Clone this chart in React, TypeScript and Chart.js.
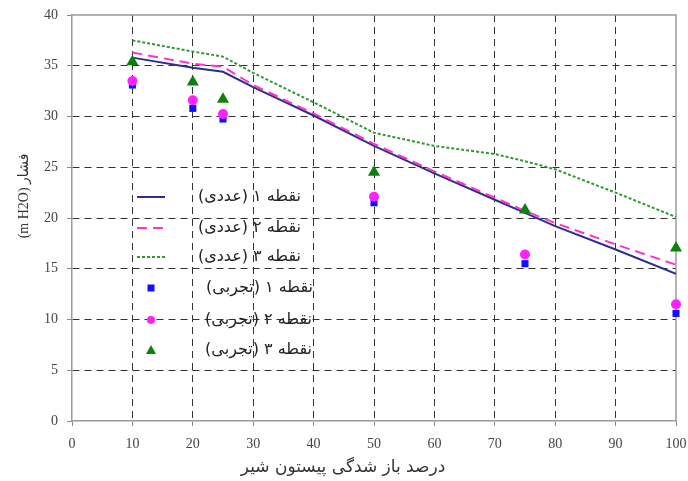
import React, { useEffect, useRef } from "react";
import { Chart, registerables } from "chart.js";

Chart.register(...registerables);

// ---- data ----
const xNumeric = [10, 20, 25, 30, 40, 50, 60, 70, 75, 80, 90, 100];
const numeric1 = [35.8, 34.8, 34.4, 32.9, 30.1, 27.1, 24.4, 21.8, 20.5, 19.2, 16.9, 14.5];
const numeric2 = [36.3, 35.2, 34.9, 33.1, 30.3, 27.3, 24.6, 22.0, 20.7, 19.5, 17.4, 15.4];
const numeric3 = [37.5, 36.4, 35.9, 34.3, 31.4, 28.4, 27.1, 26.3, 25.6, 24.8, 22.5, 20.1];

const xExperimental = [10, 20, 25, 50, 75, 100];
const experimental1 = [33.1, 30.8, 29.75, 21.5, 15.5, 10.6];
const experimental2 = [33.5, 31.6, 30.25, 22.1, 16.4, 11.5];
const experimental3 = [35.4, 33.4, 31.7, 24.5, 20.8, 17.05];

const seriesLabels = [
  "نقطه ۱ (عددی)",
  "نقطه ۲ (عددی)",
  "نقطه ۳ (عددی)",
  "نقطه ۱ (تجربی)",
  "نقطه ۲ (تجربی)",
  "نقطه ۳ (تجربی)",
];

const xAxisTitle = "درصد باز شدگی پیستون شیر";
const yAxisTitle = "(m H2O) فشار";

const xMin = 0, xMax = 100, xStep = 10;
const yMin = 0, yMax = 40, yStep = 5;

const toPoints = (xs: number[], ys: number[]) => xs.map((x, i) => ({ x, y: ys[i] }));

const SERIF = '"Liberation Serif", "DejaVu Sans", serif';
const ARABIC = '"DejaVu Sans", "Liberation Serif", sans-serif';

const decorPlugin = {
  id: "decor",
  beforeDatasetsDraw(chart: any) {
    const { ctx, chartArea: a } = chart;
    ctx.save();
    ctx.strokeStyle = "#9a9a9a";
    ctx.lineWidth = 1.5;
    ctx.setLineDash([]);
    ctx.beginPath();
    ctx.moveTo(a.left, a.top);
    ctx.lineTo(a.right, a.top);
    ctx.lineTo(a.right, a.bottom);
    ctx.stroke();
    ctx.restore();
  },
  afterDraw(chart: any) {
    const { ctx } = chart;
    ctx.save();
    // axis titles
    ctx.fillStyle = "#333";
    ctx.textBaseline = "middle";
    ctx.textAlign = "center";
    ctx.font = "17px " + ARABIC;
    ctx.direction = "rtl";
    ctx.fillText(xAxisTitle, 343, 468);
    ctx.save();
    ctx.translate(24, 196);
    ctx.rotate(-Math.PI / 2);
    ctx.direction = "ltr";
    ctx.font = "14px " + SERIF;
    ctx.fillText(yAxisTitle, 0, 0);
    ctx.restore();

    // legend inside the plot
    const rows = [197, 228, 257, 288, 320, 350];
    const rightEdges = [301, 301, 301, 313, 312, 312];
    chart.data.datasets.forEach((ds: any, i: number) => {
      const y = rows[i];
      if (ds.showLine !== false) {
        ctx.save();
        ctx.strokeStyle = ds.borderColor;
        ctx.lineWidth = ds.borderWidth;
        ctx.setLineDash(ds.borderDash || []);
        ctx.beginPath();
        ctx.moveTo(137, y);
        ctx.lineTo(165, y);
        ctx.stroke();
        ctx.restore();
      } else {
        ctx.save();
        ctx.fillStyle = ds.backgroundColor;
        const cx = 151;
        if (ds.pointStyle === "rect") {
          ctx.fillRect(cx - 3.5, y - 3.5, 7, 7);
        } else if (ds.pointStyle === "triangle") {
          ctx.beginPath();
          ctx.moveTo(cx, y - 5);
          ctx.lineTo(cx + 5, y + 4);
          ctx.lineTo(cx - 5, y + 4);
          ctx.closePath();
          ctx.fill();
        } else {
          ctx.beginPath();
          ctx.arc(cx, y, 4, 0, Math.PI * 2);
          ctx.fill();
        }
        ctx.restore();
      }
      ctx.fillStyle = "#222";
      ctx.font = "16px " + ARABIC;
      ctx.direction = "rtl";
      ctx.textAlign = "right";
      ctx.textBaseline = "middle";
      ctx.fillText(ds.label, rightEdges[i], y);
    });
    ctx.restore();
  },
};

export default function App() {
  const canvasRef = useRef<HTMLCanvasElement | null>(null);

  useEffect(() => {
    if (!canvasRef.current) return;
    const chart = new Chart(canvasRef.current, {
      type: "line",
      data: {
        datasets: [
          {
            label: seriesLabels[0],
            data: toPoints(xNumeric, numeric1),
            borderColor: "#2e2e8f",
            backgroundColor: "#2e2e8f",
            borderWidth: 2,
            pointRadius: 0,
            tension: 0,
            order: 6,
          },
          {
            label: seriesLabels[1],
            data: toPoints(xNumeric, numeric2),
            borderColor: "#ff33cc",
            backgroundColor: "#ff33cc",
            borderWidth: 2,
            borderDash: [10, 6],
            pointRadius: 0,
            tension: 0,
            order: 5,
          },
          {
            label: seriesLabels[2],
            data: toPoints(xNumeric, numeric3),
            borderColor: "#2f9a2f",
            backgroundColor: "#2f9a2f",
            borderWidth: 2,
            borderDash: [3, 2],
            pointRadius: 0,
            tension: 0,
            order: 4,
          },
          {
            label: seriesLabels[3],
            data: toPoints(xExperimental, experimental1),
            showLine: false,
            pointStyle: "rect",
            pointRadius: 5,
            borderWidth: 0,
            borderColor: "#1010ff",
            backgroundColor: "#1010ff",
            clip: false,
            order: 3,
          },
          {
            label: seriesLabels[4],
            data: toPoints(xExperimental, experimental2),
            showLine: false,
            pointStyle: "circle",
            pointRadius: 5,
            borderWidth: 0,
            borderColor: "#ff22ff",
            backgroundColor: "#ff22ff",
            clip: false,
            order: 2,
          },
          {
            label: seriesLabels[5],
            data: toPoints(xExperimental, experimental3),
            showLine: false,
            pointStyle: "triangle",
            pointRadius: 7,
            borderWidth: 0,
            borderColor: "#0d800d",
            backgroundColor: "#0d800d",
            clip: false,
            order: 1,
          },
        ],
      },
      options: {
        animation: false,
        responsive: true,
        maintainAspectRatio: false,
        layout: { padding: { top: 15, right: 12, left: 0, bottom: 0 } },
        plugins: {
          legend: { display: false },
          tooltip: { enabled: false },
        },
        scales: {
          x: {
            type: "linear",
            min: xMin,
            max: xMax,
            afterFit: (s: any) => {
              s.height = 60;
              s.paddingLeft = 0;
              s.paddingRight = 0;
            },
            ticks: {
              stepSize: xStep,
              color: "#444",
              padding: 10,
              font: { family: SERIF, size: 14 },
            },
            grid: {
              color: (c: any) =>
                c.tick && (c.tick.value === xMin || c.tick.value === xMax) ? "rgba(0,0,0,0)" : "#333",
              lineWidth: 1,
              tickLength: 5,
              tickColor: "#888",
            },
            border: { display: true, color: "#9a9a9a", width: 1.5, dash: [7, 5] },
          },
          y: {
            type: "linear",
            min: yMin,
            max: yMax,
            afterFit: (s: any) => {
              s.width = 72;
              s.paddingTop = 0;
              s.paddingBottom = 0;
            },
            ticks: {
              stepSize: yStep,
              color: "#444",
              padding: 9,
              font: { family: SERIF, size: 14 },
            },
            grid: {
              color: (c: any) =>
                c.tick && (c.tick.value === yMin || c.tick.value === yMax) ? "rgba(0,0,0,0)" : "#333",
              lineWidth: 1,
              tickLength: 5,
              tickColor: "#888",
            },
            border: { display: true, color: "#9a9a9a", width: 1.5, dash: [7, 5] },
          },
        },
      },
      plugins: [decorPlugin],
    } as any);
    return () => chart.destroy();
  }, []);

  return (
    <div style={{ position: "fixed", left: 0, top: 0, width: 688, height: 481, background: "#fff" }}>
      <canvas ref={canvasRef} />
    </div>
  );
}
